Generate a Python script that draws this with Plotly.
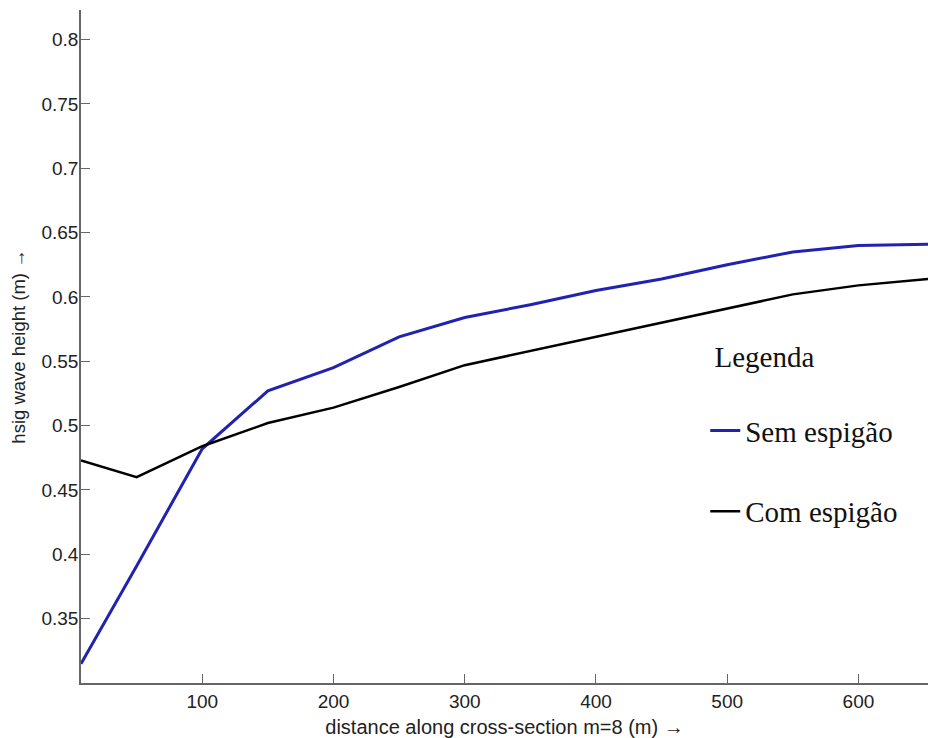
import plotly.graph_objects as go

# distance along cross-section (m)
distance = [7.6, 50, 100, 150, 200, 250, 300, 350, 400, 450, 500, 550, 600, 653]
# significant wave height (m)
sem_espigao = [0.315, 0.391, 0.482, 0.527, 0.545, 0.569, 0.584, 0.594, 0.605, 0.614, 0.625, 0.635, 0.640, 0.641]
com_espigao = [0.473, 0.460, 0.484, 0.502, 0.514, 0.530, 0.547, 0.558, 0.569, 0.580, 0.591, 0.602, 0.609, 0.614]

x_ticks = [100, 200, 300, 400, 500, 600]
y_ticks = [0.35, 0.4, 0.45, 0.5, 0.55, 0.6, 0.65, 0.7, 0.75, 0.8]
y_tick_text = ["0.35", "0.4", "0.45", "0.5", "0.55", "0.6", "0.65", "0.7", "0.75", "0.8"]

fig = go.Figure()
fig.add_trace(go.Scatter(x=distance, y=sem_espigao, mode="lines", name="Sem espigão",
                         legendgroup="a", line=dict(color="#2222b0", width=3)))
fig.add_trace(go.Scatter(x=distance, y=com_espigao, mode="lines", name="Com espigão",
                         legendgroup="b", line=dict(color="#000000", width=2.5)))

sans = "Liberation Sans, Arial, sans-serif"
serif = "Liberation Serif, Times New Roman, serif"
tick_font = dict(family=sans, size=19, color="#222222")

fig.update_layout(
    width=928, height=738,
    margin=dict(l=81, r=0, t=10, b=55),
    plot_bgcolor="white", paper_bgcolor="white",
    font=tick_font,
    showlegend=True,
    legend=dict(
        x=0.737, y=0.525, xanchor="left", yanchor="top",
        bgcolor="rgba(0,0,0,0)",
        font=dict(family=serif, size=29, color="#111111"),
        title=dict(text="\u00a0Legenda<br> ", font=dict(family=serif, size=29, color="#111111")),
        tracegroupgap=40,
        itemwidth=30,
    ),
    xaxis=dict(
        range=[7.6, 653], tickvals=x_ticks, ticks="inside", ticklen=9, tickcolor="#666666",
        showline=True, linecolor="#666666", linewidth=1.5, showgrid=False, zeroline=False,
        tickfont=tick_font,
        title=dict(text="distance along cross-section m=8 (m) →",
                   font=dict(family=sans, size=20, color="#222222"), standoff=10),
    ),
    yaxis=dict(
        range=[0.3, 0.823], tickvals=y_ticks, ticktext=y_tick_text, ticks="inside", ticklen=9,
        tickcolor="#666666", showline=True, linecolor="#666666", linewidth=1.5,
        showgrid=False, zeroline=False, tickfont=tick_font, ticklabelstandoff=-3,
        title=dict(text="hsig wave height (m) →",
                   font=dict(family=sans, size=18.5, color="#222222"), standoff=11),
    ),
)

fig.write_html("out.html", config={"displayModeBar": False},
               post_script="document.body.style.margin='0';document.body.style.overflow='hidden';")
